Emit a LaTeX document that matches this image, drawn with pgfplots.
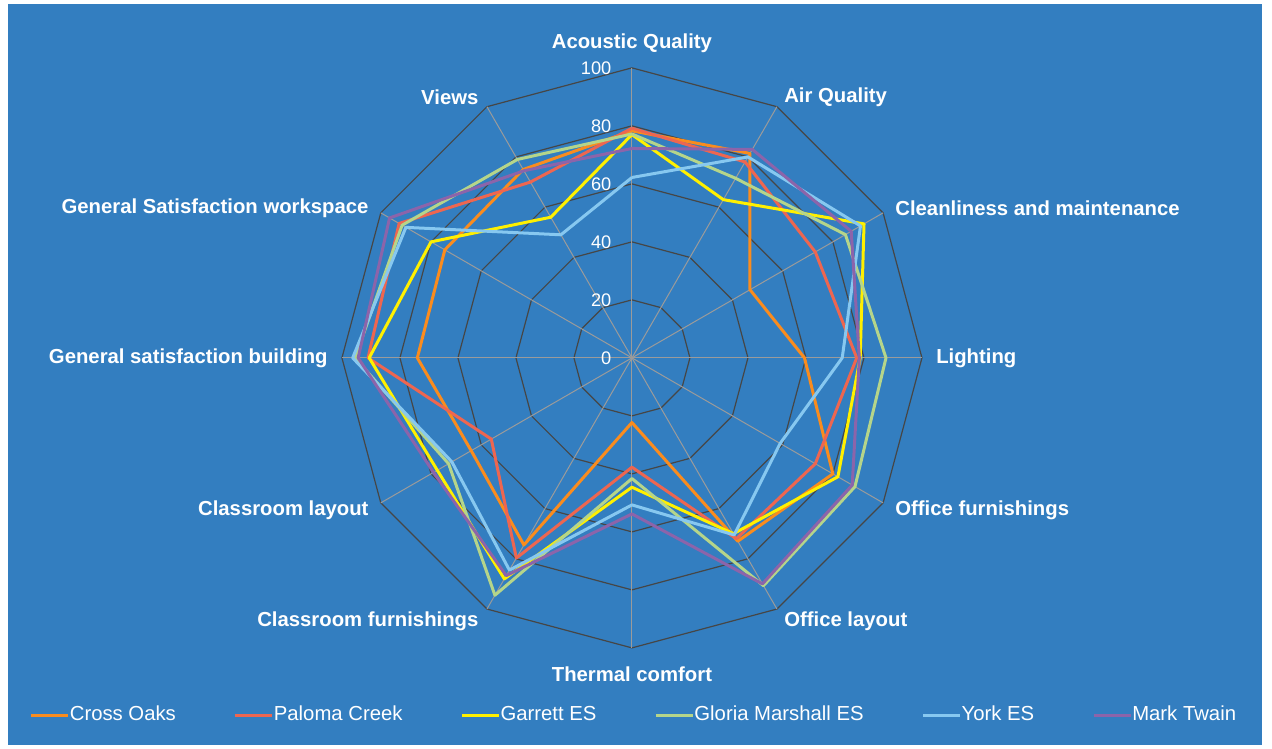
\documentclass[border=0pt]{standalone}
\usepackage{pgfplots}
\pgfplotsset{compat=1.18}
\usepgfplotslibrary{polar}
\usepackage{fontspec}
\setmainfont{Liberation Sans}
\definecolor{bgblue}{RGB}{51,126,192}
\definecolor{cOrange}{RGB}{250,140,30}
\definecolor{cRed}{RGB}{238,102,80}
\definecolor{cYellow}{RGB}{255,240,0}
\definecolor{cGreen}{RGB}{181,213,138}
\definecolor{cBlue}{RGB}{135,200,240}
\definecolor{cPurple}{RGB}{140,100,170}
\definecolor{ringcol}{RGB}{70,70,70}
\definecolor{spokecol}{RGB}{155,155,155}
\begin{document}
\begin{tikzpicture}
\begin{axis}[
  x=1.45pt, y=1.45pt,
  xmin=-217.9, xmax=220.7, ymin=-134.8, ymax=123.4,
  hide axis, scale only axis, clip=false,
  legend columns=6,
  legend image code/.code={\draw[#1,line width=1.5pt] (0pt,0pt) -- (18.5pt,0pt);},
  legend style={at={(0.4976,0.0447)}, anchor=center, draw=none, fill=none,
    text=white, font=\fontsize{10.15}{12}\selectfont,
    /tikz/every even column/.append style={column sep=29pt},
    /tikz/every odd column/.append style={column sep=0pt},
    nodes={inner sep=0pt, text height=7.6pt, text depth=2.2pt}},
]
\fill[white] (rel axis cs:0,0) rectangle (rel axis cs:1,1);
\fill[bgblue] (axis cs:-215.1,-133.4) rectangle (axis cs:217.2,122.0);
% rings
\pgfplotsinvokeforeach{20,40,60,80,100}{
  \addplot[forget plot, ringcol, line width=0.6pt, data cs=polar] coordinates {
    (90,#1) (60,#1) (30,#1) (0,#1) (-30,#1) (-60,#1) (-90,#1) (-120,#1) (-150,#1) (-180,#1) (-210,#1) (-240,#1) (-270,#1)};
}
% spokes
\pgfplotsinvokeforeach{90,60,30,0,-30,-60,-90,-120,-150,-180,-210,-240}{
  \addplot[forget plot, spokecol, line width=0.5pt, data cs=polar] coordinates {(#1,0) (#1,100)};
}
% series
\addplot[cOrange, line width=1.5pt, line join=round, data cs=polar] coordinates {
 (90,78.3) (60,81.4) (30,47) (0,59.5) (-30,80) (-60,73) (-90,22.3) (-120,74.5) (-150,64) (-180,74) (-210,74.5) (-240,75) (-270,78.3)};
\addlegendentry{Cross Oaks}
\addplot[cRed, line width=1.5pt, line join=round, data cs=polar] coordinates {
 (90,79.2) (60,78) (30,73) (0,77.5) (-30,73) (-60,72) (-90,37.7) (-120,79.7) (-150,56) (-180,91) (-210,92.7) (-240,70) (-270,79.2)};
\addlegendentry{Paloma Creek}
\addplot[cYellow, line width=1.5pt, line join=round, data cs=polar] coordinates {
 (90,77) (60,63) (30,92.4) (0,78.7) (-30,82) (-60,70) (-90,44.6) (-120,88) (-150,77.5) (-180,90.6) (-210,80) (-240,56) (-270,77)};
\addlegendentry{Garrett ES}
\addplot[cGreen, line width=1.5pt, line join=round, data cs=polar] coordinates {
 (90,77.2) (60,71.5) (30,85) (0,87.6) (-30,88.8) (-60,90.7) (-90,41.6) (-120,94.5) (-150,73) (-180,95.5) (-210,91.5) (-240,79) (-270,77.2)};
\addlegendentry{Gloria Marshall ES}
\addplot[cBlue, line width=1.5pt, line join=round, data cs=polar] coordinates {
 (90,62.2) (60,80) (30,91) (0,72.5) (-30,59) (-60,70.5) (-90,50.7) (-120,84.5) (-150,71.7) (-180,96.3) (-210,90) (-240,49) (-270,62.2)};
\addlegendentry{York ES}
\addplot[cPurple, line width=1.5pt, line join=round, data cs=polar] coordinates {
 (90,72.2) (60,83) (30,87.3) (0,78.4) (-30,87.7) (-60,90) (-90,53.8) (-120,86.7) (-150,79) (-180,94.4) (-210,96.5) (-240,74.5) (-270,72.2)};
\addlegendentry{Mark Twain}
% tick labels
\begin{scope}[every node/.style={text=white, font=\fontsize{9.1}{11}\selectfont, anchor=east, inner sep=0pt}]
\node at (axis cs:-7,0) {0};
\node at (axis cs:-7,20) {20};
\node at (axis cs:-7,40) {40};
\node at (axis cs:-7,60) {60};
\node at (axis cs:-7,80) {80};
\node at (axis cs:-7,100) {100};
\end{scope}
% category labels
\begin{scope}[every node/.style={text=white, font=\fontsize{10.15}{12}\selectfont\bfseries, inner sep=0pt}]
\node[anchor=center] at (axis cs:0,108.6) {Acoustic Quality};
\node[anchor=west] at (axis cs:52.4,90) {Air Quality};
\node[anchor=west] at (axis cs:90.7,51.7) {Cleanliness and maintenance};
\node[anchor=west] at (axis cs:104.8,0) {Lighting};
\node[anchor=west] at (axis cs:90.7,-52.4) {Office furnishings};
\node[anchor=west] at (axis cs:52.4,-90.7) {Office layout};
\node[anchor=center] at (axis cs:0,-109) {Thermal comfort};
\node[anchor=east] at (axis cs:-52.8,-90.7) {Classroom furnishings};
\node[anchor=east] at (axis cs:-90.7,-52.4) {Classroom layout};
\node[anchor=east] at (axis cs:-104.8,0) {General satisfaction building};
\node[anchor=east] at (axis cs:-90.7,51.7) {General Satisfaction workspace};
\node[anchor=east] at (axis cs:-52.8,90) {Views};
\end{scope}
\end{axis}
\end{tikzpicture}
\end{document}
